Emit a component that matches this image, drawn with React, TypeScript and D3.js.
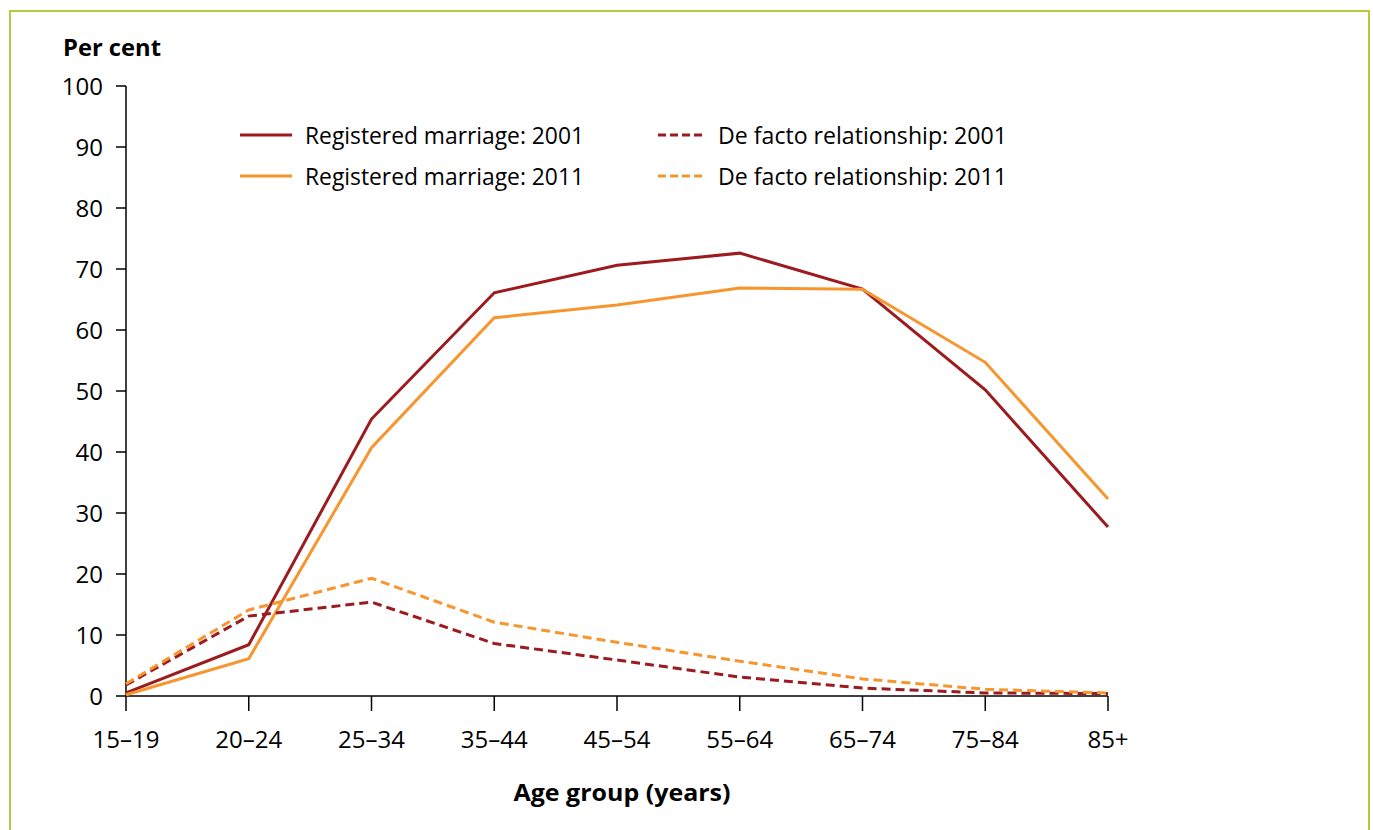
import React from 'react'
import * as d3 from 'd3'

const WIDTH = 1373
const HEIGHT = 830

const AGE_GROUPS = ['15–19', '20–24', '25–34', '35–44', '45–54', '55–64', '65–74', '75–84', '85+']
const Y_TICKS = [0, 10, 20, 30, 40, 50, 60, 70, 80, 90, 100]

const MARRIED_2001 = [0.5, 8.4, 45.4, 66.1, 70.6, 72.6, 66.7, 50.2, 27.7]
const MARRIED_2011 = [0.2, 6.1, 40.7, 62.0, 64.1, 66.9, 66.7, 54.7, 32.3]
const DEFACTO_2001 = [1.8, 13.1, 15.4, 8.6, 5.9, 3.1, 1.3, 0.5, 0.4]
const DEFACTO_2011 = [2.0, 14.1, 19.3, 12.1, 8.8, 5.7, 2.8, 1.1, 0.5]

const DARK_RED = '#9b1b1f'
const ORANGE = '#f7962f'
const FONT = '"Open Sans", "Noto Sans", sans-serif'

const SERIES = [
  { label: 'Registered marriage: 2001', values: MARRIED_2001, color: DARK_RED, dashed: false },
  { label: 'Registered marriage: 2011', values: MARRIED_2011, color: ORANGE, dashed: false },
  { label: 'De facto relationship: 2001', values: DEFACTO_2001, color: DARK_RED, dashed: true },
  { label: 'De facto relationship: 2011', values: DEFACTO_2011, color: ORANGE, dashed: true },
]

const margin = { left: 126, right: WIDTH - 1108, top: 86, bottom: HEIGHT - 696 }

export default function App() {
  const x = d3.scalePoint<string>()
    .domain(AGE_GROUPS)
    .range([margin.left, WIDTH - margin.right])
  const y = d3.scaleLinear()
    .domain([0, 100])
    .range([HEIGHT - margin.bottom, margin.top])

  const line = d3.line<number>()
    .x((_, i) => x(AGE_GROUPS[i]) as number)
    .y((d) => y(d))

  const y0 = y(0)

  return (
    <svg width={WIDTH} height={HEIGHT} style={{ position: 'absolute', left: 0, top: 0, background: '#fff' }}>
      {/* frame */}
      <path d={`M10,${HEIGHT + 5} V11 H1369 V${HEIGHT + 5}`} fill="none" stroke="#b3cb3c" strokeWidth={2} />

      <text x={63} y={56} fontFamily={FONT} fontWeight={700} fontSize={23} fill="#000"
        textLength={98} lengthAdjust="spacingAndGlyphs">Per cent</text>

      {/* y axis */}
      <line x1={margin.left} x2={margin.left} y1={y(100)} y2={y0} stroke="#000" strokeWidth={1.5} />
      {Y_TICKS.map((t) => (
        <g key={t}>
          <line x1={margin.left - 10} x2={margin.left} y1={y(t)} y2={y(t)} stroke="#000" strokeWidth={1.5} />
          <text x={103} y={y(t) + 9} textAnchor="end" fontFamily={FONT} fontSize={24} fill="#000">{t}</text>
        </g>
      ))}

      {/* x axis */}
      <line x1={margin.left} x2={WIDTH - margin.right} y1={y0} y2={y0} stroke="#000" strokeWidth={1.5} />
      {AGE_GROUPS.map((g) => (
        <g key={g}>
          <line x1={x(g)} x2={x(g)} y1={y0} y2={y0 + 15} stroke="#000" strokeWidth={1.5} />
          <text x={x(g)} y={748} textAnchor="middle" fontFamily={FONT} fontSize={24} fill="#000">{g}</text>
        </g>
      ))}
      <text x={622} y={801} textAnchor="middle" fontFamily={FONT} fontWeight={700} fontSize={23} fill="#000"
        textLength={217} lengthAdjust="spacingAndGlyphs">Age group (years)</text>

      {/* lines */}
      {SERIES.map((s) => (
        <path
          key={s.label}
          d={line(s.values) || ''}
          fill="none"
          stroke={s.color}
          strokeWidth={3}
          strokeDasharray={s.dashed ? '9,5' : undefined}
          strokeLinejoin="miter"
        />
      ))}

      {/* legend */}
      {SERIES.map((s, i) => {
        const col = s.dashed ? 1 : 0
        const row = i % 2
        const lx = col ? 658 : 240
        const ly = row ? 176 : 135
        return (
          <g key={'lg' + s.label}>
            <line x1={lx} x2={lx + (col ? 47 : 52)} y1={ly} y2={ly} stroke={s.color} strokeWidth={3}
              strokeDasharray={s.dashed ? '8,4' : undefined} />
            <text x={lx + (col ? 60 : 65)} y={ly + 9} fontFamily={FONT} fontSize={23} fill="#000"
              textLength={col ? 289 : 279} lengthAdjust="spacingAndGlyphs">{s.label}</text>
          </g>
        )
      })}
    </svg>
  )
}
